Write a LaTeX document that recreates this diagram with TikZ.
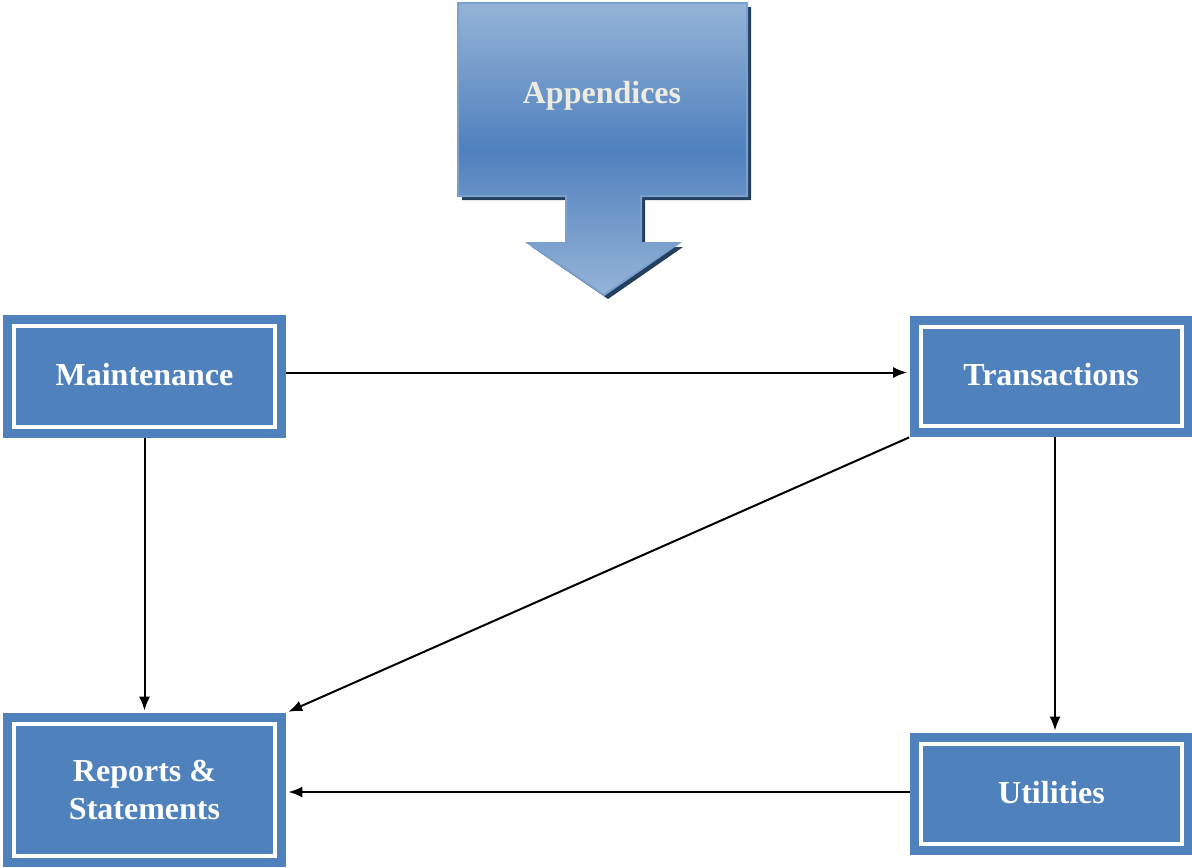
\documentclass[tikz,border=0pt]{standalone}
\usepackage{fontspec}
\setmainfont{Liberation Serif}
\usetikzlibrary{arrows.meta}
\definecolor{boxblue}{HTML}{4F81BD}
\definecolor{lightblue}{HTML}{95B3D7}
\definecolor{shadowblue}{HTML}{243F60}
\definecolor{cream}{HTML}{EEECE1}
\tikzset{
  module/.style={fill=boxblue, text=white, font=\bfseries\fontsize{16}{19}\selectfont,
    align=center, inner sep=0pt, minimum width=141.5pt,
    path picture={\draw[white,line width=2pt]
      ([shift={(5.5pt,-5.5pt)}]path picture bounding box.north west) rectangle
      ([shift={(-5.5pt,5.5pt)}]path picture bounding box.south east);}},
  flow/.style={-{Latex[length=7pt,width=5.5pt]}, line width=1pt, shorten >=1pt}
}
\begin{document}
\begin{tikzpicture}[x=0.5pt,y=-0.5pt]
\useasboundingbox (0,0) rectangle (1192,867);
% callout with shadow
\fill[shadowblue] (462,7) -- (751,7) -- (751,200) -- (645,200) -- (645,247) -- (683,247)
  -- (608,299) -- (532,247) -- (570,247) -- (570,200) -- (462,200) -- cycle;
\draw[boxblue!75!white, line width=1pt, top color=lightblue, bottom color=lightblue, middle color=boxblue]
  (458,3) -- (747,3) -- (747,196) -- (641,196) -- (641,243) -- (679,243)
  -- (604,295) -- (528,243) -- (566,243) -- (566,196) -- (458,196) -- cycle;
\node[text=cream, font=\bfseries\fontsize{16}{19}\selectfont] (appx) at (602,96) {Appendices};
% modules
\node[module, minimum height=61.5pt] (maint) at (144.5,376.5) {\raisebox{2.5pt}{Maintenance}};
\node[module, minimum height=60.5pt] (trans) at (1051,376.5) {\raisebox{2pt}{Transactions}};
\node[module, minimum height=77pt] (reports) at (144.5,790) {Reports \&\\Statements};
\node[module, minimum height=61pt] (util) at (1051.5,794) {\raisebox{1.5pt}{Utilities}};
% flows
\draw[flow] ([yshift=2pt]maint.east) -- ([yshift=2pt]trans.west);
\draw[flow] (maint) -- (reports);
\draw[flow] (trans.south west) -- (reports.north east);
\draw[flow] ([xshift=2pt]trans.south) -- ([xshift=2pt]trans.south |- util.north);
\draw[flow] ([yshift=1pt]util.west) -- ([yshift=1pt]util.west -| reports.east);
\end{tikzpicture}
\end{document}
